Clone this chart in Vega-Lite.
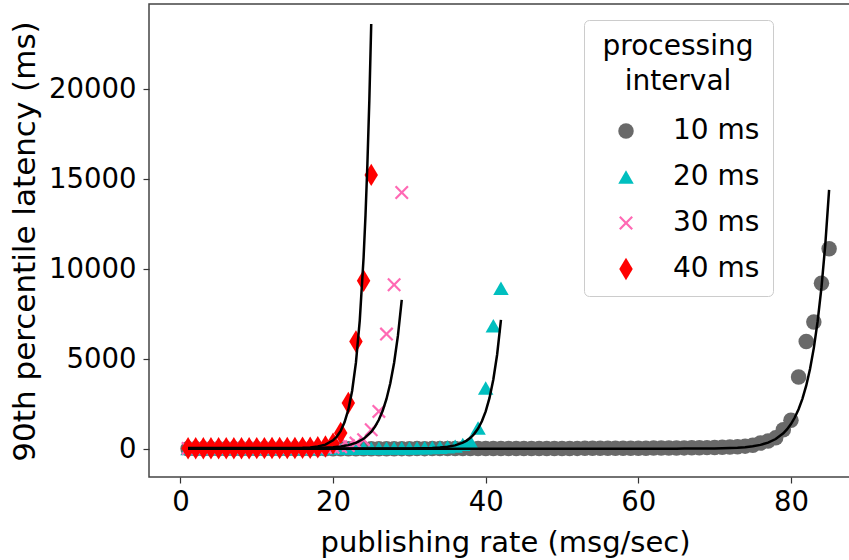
{
  "$schema": "https://vega.github.io/schema/vega-lite/v6.json",
  "width": 703,
  "height": 473,
  "autosize": {"type": "none"},
  "padding": {"left": 149, "top": 4, "right": 0, "bottom": 83},
  "background": "white",
  "config": {
    "font": "DejaVu Sans",
    "view": {"stroke": "#444", "strokeWidth": 1.5},
    "axis": {"grid": false, "domain": false, "labelFont": "DejaVu Sans", "labelFontSize": 27.5, "labelColor": "#000", "tickColor": "#333", "tickSize": 6, "tickWidth": 1.2, "titleFont": "DejaVu Sans", "titleFontWeight": "normal", "titleColor": "#000"}
  },
  "datasets": {
    "pts": [
      {"x":1,"y":14,"s":"10 ms"},{"x":2,"y":13,"s":"10 ms"},{"x":3,"y":15,"s":"10 ms"},{"x":4,"y":14,"s":"10 ms"},{"x":5,"y":16,"s":"10 ms"},{"x":6,"y":15,"s":"10 ms"},{"x":7,"y":14,"s":"10 ms"},{"x":8,"y":16,"s":"10 ms"},{"x":9,"y":15,"s":"10 ms"},{"x":10,"y":17,"s":"10 ms"},
      {"x":11,"y":16,"s":"10 ms"},{"x":12,"y":15,"s":"10 ms"},{"x":13,"y":17,"s":"10 ms"},{"x":14,"y":16,"s":"10 ms"},{"x":15,"y":18,"s":"10 ms"},{"x":16,"y":17,"s":"10 ms"},{"x":17,"y":16,"s":"10 ms"},{"x":18,"y":18,"s":"10 ms"},{"x":19,"y":17,"s":"10 ms"},{"x":20,"y":19,"s":"10 ms"},
      {"x":21,"y":18,"s":"10 ms"},{"x":22,"y":17,"s":"10 ms"},{"x":23,"y":19,"s":"10 ms"},{"x":24,"y":18,"s":"10 ms"},{"x":25,"y":20,"s":"10 ms"},{"x":26,"y":19,"s":"10 ms"},{"x":27,"y":18,"s":"10 ms"},{"x":28,"y":20,"s":"10 ms"},{"x":29,"y":21,"s":"10 ms"},{"x":30,"y":20,"s":"10 ms"},
      {"x":31,"y":22,"s":"10 ms"},{"x":32,"y":21,"s":"10 ms"},{"x":33,"y":23,"s":"10 ms"},{"x":34,"y":22,"s":"10 ms"},{"x":35,"y":24,"s":"10 ms"},{"x":36,"y":23,"s":"10 ms"},{"x":37,"y":25,"s":"10 ms"},{"x":38,"y":24,"s":"10 ms"},{"x":39,"y":26,"s":"10 ms"},{"x":40,"y":25,"s":"10 ms"},
      {"x":41,"y":27,"s":"10 ms"},{"x":42,"y":28,"s":"10 ms"},{"x":43,"y":27,"s":"10 ms"},{"x":44,"y":29,"s":"10 ms"},{"x":45,"y":30,"s":"10 ms"},{"x":46,"y":29,"s":"10 ms"},{"x":47,"y":31,"s":"10 ms"},{"x":48,"y":32,"s":"10 ms"},{"x":49,"y":33,"s":"10 ms"},{"x":50,"y":32,"s":"10 ms"},
      {"x":51,"y":34,"s":"10 ms"},{"x":52,"y":35,"s":"10 ms"},{"x":53,"y":36,"s":"10 ms"},{"x":54,"y":37,"s":"10 ms"},{"x":55,"y":38,"s":"10 ms"},{"x":56,"y":40,"s":"10 ms"},{"x":57,"y":41,"s":"10 ms"},{"x":58,"y":43,"s":"10 ms"},{"x":59,"y":44,"s":"10 ms"},{"x":60,"y":46,"s":"10 ms"},
      {"x":61,"y":48,"s":"10 ms"},{"x":62,"y":50,"s":"10 ms"},{"x":63,"y":53,"s":"10 ms"},{"x":64,"y":55,"s":"10 ms"},{"x":65,"y":58,"s":"10 ms"},{"x":66,"y":62,"s":"10 ms"},{"x":67,"y":66,"s":"10 ms"},{"x":68,"y":71,"s":"10 ms"},{"x":69,"y":77,"s":"10 ms"},{"x":70,"y":85,"s":"10 ms"},
      {"x":71,"y":95,"s":"10 ms"},{"x":72,"y":110,"s":"10 ms"},{"x":73,"y":130,"s":"10 ms"},{"x":74,"y":160,"s":"10 ms"},{"x":75,"y":210,"s":"10 ms"},{"x":76,"y":330,"s":"10 ms"},{"x":77,"y":450,"s":"10 ms"},{"x":78,"y":620,"s":"10 ms"},{"x":79,"y":1070,"s":"10 ms"},{"x":80,"y":1600,"s":"10 ms"},
      {"x":81,"y":4000,"s":"10 ms"},{"x":82,"y":5980,"s":"10 ms"},{"x":83,"y":7060,"s":"10 ms"},{"x":84,"y":9220,"s":"10 ms"},{"x":85,"y":11130,"s":"10 ms"},
      {"x":1,"y":22,"s":"20 ms"},{"x":2,"y":23,"s":"20 ms"},{"x":3,"y":22,"s":"20 ms"},{"x":4,"y":24,"s":"20 ms"},{"x":5,"y":23,"s":"20 ms"},{"x":6,"y":25,"s":"20 ms"},{"x":7,"y":24,"s":"20 ms"},{"x":8,"y":26,"s":"20 ms"},{"x":9,"y":25,"s":"20 ms"},{"x":10,"y":27,"s":"20 ms"},
      {"x":11,"y":26,"s":"20 ms"},{"x":12,"y":28,"s":"20 ms"},{"x":13,"y":27,"s":"20 ms"},{"x":14,"y":29,"s":"20 ms"},{"x":15,"y":30,"s":"20 ms"},{"x":16,"y":29,"s":"20 ms"},{"x":17,"y":31,"s":"20 ms"},{"x":18,"y":32,"s":"20 ms"},{"x":19,"y":33,"s":"20 ms"},{"x":20,"y":34,"s":"20 ms"},
      {"x":21,"y":35,"s":"20 ms"},{"x":22,"y":37,"s":"20 ms"},{"x":23,"y":38,"s":"20 ms"},{"x":24,"y":40,"s":"20 ms"},{"x":25,"y":42,"s":"20 ms"},{"x":26,"y":44,"s":"20 ms"},{"x":27,"y":47,"s":"20 ms"},{"x":28,"y":50,"s":"20 ms"},{"x":29,"y":54,"s":"20 ms"},{"x":30,"y":58,"s":"20 ms"},
      {"x":31,"y":63,"s":"20 ms"},{"x":32,"y":70,"s":"20 ms"},{"x":33,"y":80,"s":"20 ms"},{"x":34,"y":95,"s":"20 ms"},{"x":35,"y":120,"s":"20 ms"},{"x":36,"y":160,"s":"20 ms"},{"x":37,"y":260,"s":"20 ms"},{"x":38,"y":420,"s":"20 ms"},{"x":39,"y":1170,"s":"20 ms"},{"x":40,"y":3390,"s":"20 ms"},
      {"x":41,"y":6850,"s":"20 ms"},{"x":42,"y":8940,"s":"20 ms"},
      {"x":1,"y":32,"s":"30 ms"},{"x":2,"y":33,"s":"30 ms"},{"x":3,"y":32,"s":"30 ms"},{"x":4,"y":34,"s":"30 ms"},{"x":5,"y":35,"s":"30 ms"},{"x":6,"y":34,"s":"30 ms"},{"x":7,"y":36,"s":"30 ms"},{"x":8,"y":37,"s":"30 ms"},{"x":9,"y":38,"s":"30 ms"},{"x":10,"y":40,"s":"30 ms"},
      {"x":11,"y":41,"s":"30 ms"},{"x":12,"y":43,"s":"30 ms"},{"x":13,"y":45,"s":"30 ms"},{"x":14,"y":48,"s":"30 ms"},{"x":15,"y":51,"s":"30 ms"},{"x":16,"y":55,"s":"30 ms"},{"x":17,"y":60,"s":"30 ms"},{"x":18,"y":68,"s":"30 ms"},{"x":19,"y":80,"s":"30 ms"},{"x":20,"y":100,"s":"30 ms"},
      {"x":21,"y":130,"s":"30 ms"},{"x":22,"y":190,"s":"30 ms"},{"x":23,"y":330,"s":"30 ms"},{"x":24,"y":520,"s":"30 ms"},{"x":25,"y":1070,"s":"30 ms"},{"x":26,"y":2090,"s":"30 ms"},{"x":27,"y":6390,"s":"30 ms"},{"x":28,"y":9130,"s":"30 ms"},{"x":29,"y":14260,"s":"30 ms"},
      {"x":1,"y":42,"s":"40 ms"},{"x":2,"y":44,"s":"40 ms"},{"x":3,"y":43,"s":"40 ms"},{"x":4,"y":45,"s":"40 ms"},{"x":5,"y":44,"s":"40 ms"},{"x":6,"y":46,"s":"40 ms"},{"x":7,"y":47,"s":"40 ms"},{"x":8,"y":46,"s":"40 ms"},{"x":9,"y":48,"s":"40 ms"},{"x":10,"y":49,"s":"40 ms"},
      {"x":11,"y":50,"s":"40 ms"},{"x":12,"y":52,"s":"40 ms"},{"x":13,"y":54,"s":"40 ms"},{"x":14,"y":56,"s":"40 ms"},{"x":15,"y":60,"s":"40 ms"},{"x":16,"y":66,"s":"40 ms"},{"x":17,"y":75,"s":"40 ms"},{"x":18,"y":95,"s":"40 ms"},{"x":19,"y":140,"s":"40 ms"},{"x":20,"y":300,"s":"40 ms"},
      {"x":21,"y":890,"s":"40 ms"},{"x":22,"y":2560,"s":"40 ms"},{"x":23,"y":5980,"s":"40 ms"},{"x":24,"y":9350,"s":"40 ms"},{"x":25,"y":15240,"s":"40 ms"}
    ],
    "fit": [
      {"x":1,"y":20,"s":"10 ms"},{"x":20,"y":20,"s":"10 ms"},{"x":40,"y":20,"s":"10 ms"},{"x":60,"y":20,"s":"10 ms"},{"x":65,"y":21,"s":"10 ms"},{"x":66,"y":22,"s":"10 ms"},{"x":68,"y":25,"s":"10 ms"},{"x":70,"y":32,"s":"10 ms"},{"x":71,"y":40,"s":"10 ms"},{"x":72,"y":52,"s":"10 ms"},{"x":73,"y":71,"s":"10 ms"},{"x":74,"y":102,"s":"10 ms"},{"x":75,"y":151,"s":"10 ms"},{"x":76,"y":229,"s":"10 ms"},{"x":77,"y":354,"s":"10 ms"},{"x":78,"y":554,"s":"10 ms"},{"x":79,"y":875,"s":"10 ms"},{"x":79.5,"y":1102,"s":"10 ms"},{"x":80,"y":1388,"s":"10 ms"},{"x":80.5,"y":1750,"s":"10 ms"},{"x":81,"y":2209,"s":"10 ms"},{"x":81.5,"y":2789,"s":"10 ms"},{"x":82,"y":3522,"s":"10 ms"},{"x":82.5,"y":4450,"s":"10 ms"},{"x":83,"y":5624,"s":"10 ms"},{"x":83.5,"y":7108,"s":"10 ms"},{"x":84,"y":8986,"s":"10 ms"},{"x":84.5,"y":11362,"s":"10 ms"},{"x":85,"y":14406,"s":"10 ms"},
      {"x":1,"y":30,"s":"20 ms"},{"x":20,"y":30,"s":"20 ms"},{"x":28,"y":31,"s":"20 ms"},{"x":30,"y":34,"s":"20 ms"},{"x":32,"y":44,"s":"20 ms"},{"x":33,"y":57,"s":"20 ms"},{"x":34,"y":80,"s":"20 ms"},{"x":35,"y":123,"s":"20 ms"},{"x":36,"y":203,"s":"20 ms"},{"x":37,"y":351,"s":"20 ms"},{"x":37.5,"y":467,"s":"20 ms"},{"x":38,"y":626,"s":"20 ms"},{"x":38.5,"y":843,"s":"20 ms"},{"x":39,"y":1139,"s":"20 ms"},{"x":39.5,"y":1542,"s":"20 ms"},{"x":40,"y":2091,"s":"20 ms"},{"x":40.5,"y":2841,"s":"20 ms"},{"x":41,"y":3862,"s":"20 ms"},{"x":41.5,"y":5254,"s":"20 ms"},{"x":42,"y":7183,"s":"20 ms"},
      {"x":1,"y":40,"s":"30 ms"},{"x":10,"y":40,"s":"30 ms"},{"x":15,"y":44,"s":"30 ms"},{"x":18,"y":59,"s":"30 ms"},{"x":20,"y":98,"s":"30 ms"},{"x":21,"y":141,"s":"30 ms"},{"x":22,"y":215,"s":"30 ms"},{"x":23,"y":344,"s":"30 ms"},{"x":24,"y":567,"s":"30 ms"},{"x":25,"y":953,"s":"30 ms"},{"x":25.5,"y":1243,"s":"30 ms"},{"x":26,"y":1623,"s":"30 ms"},{"x":26.5,"y":2124,"s":"30 ms"},{"x":27,"y":2784,"s":"30 ms"},{"x":27.5,"y":3652,"s":"30 ms"},{"x":28,"y":4796,"s":"30 ms"},{"x":28.5,"y":6302,"s":"30 ms"},{"x":29,"y":8294,"s":"30 ms"},
      {"x":1,"y":50,"s":"40 ms"},{"x":10,"y":50,"s":"40 ms"},{"x":14,"y":54,"s":"40 ms"},{"x":16,"y":68,"s":"40 ms"},{"x":17,"y":89,"s":"40 ms"},{"x":18,"y":137,"s":"40 ms"},{"x":19,"y":244,"s":"40 ms"},{"x":20,"y":482,"s":"40 ms"},{"x":20.5,"y":694,"s":"40 ms"},{"x":21,"y":1011,"s":"40 ms"},{"x":21.5,"y":1484,"s":"40 ms"},{"x":22,"y":2189,"s":"40 ms"},{"x":22.5,"y":3241,"s":"40 ms"},{"x":23,"y":4811,"s":"40 ms"},{"x":23.5,"y":7152,"s":"40 ms"},{"x":24,"y":10645,"s":"40 ms"},{"x":24.25,"y":12991,"s":"40 ms"},{"x":24.5,"y":15856,"s":"40 ms"},{"x":24.75,"y":19355,"s":"40 ms"},{"x":25,"y":23630,"s":"40 ms"}
    ]
  },
  "layer": [
    {
      "data": {"name": "pts"},
      "mark": {"type": "point", "filled": true, "size": 240, "opacity": 1, "strokeWidth": 0, "clip": true},
      "encoding": {
        "x": {"field": "x", "type": "quantitative", "scale": {"domain": [-4.12, 88], "nice": false, "zero": false},
              "axis": {"values": [0, 20, 40, 60, 80], "title": "publishing rate (msg/sec)", "labelPadding": 5, "titleFontSize": 29, "titleX": 356, "titleY": 74, "titleBaseline": "alphabetic", "titleAlign": "center"}},
        "y": {"field": "y", "type": "quantitative", "scale": {"domain": [-1556, 24740], "nice": false, "zero": false},
              "axis": {"values": [0, 5000, 10000, 15000, 20000], "format": "d", "title": "90th percentile latency (ms)", "labelPadding": 7, "titleFontSize": 31, "titleX": -115, "titleY": 237, "titleAngle": 270, "titleBaseline": "alphabetic", "titleAlign": "center"}},
        "color": {"field": "s", "type": "nominal",
                  "scale": {"domain": ["10 ms", "20 ms", "30 ms", "40 ms"], "range": ["#696969", "#00bfbf", "#ff69b4", "#ff0000"]},
                  "legend": {"title": ["processing", "interval"], "orient": "none", "legendX": 435, "legendY": 16,
                             "titleFontSize": 28, "titleFontWeight": "normal", "titleLineHeight": 35, "titleAnchor": "middle", "titleAlign": "center", "titleColor": "#000",
                             "labelFontSize": 28, "labelColor": "#000", "symbolSize": 240, "symbolOffset": 15, "labelOffset": 33, "rowPadding": 18, "titlePadding": 21,
                             "padding": 13, "strokeColor": "#cccccc", "fillColor": "white", "cornerRadius": 5, "symbolStrokeWidth": 0}},
        "shape": {"field": "s", "type": "nominal",
                  "scale": {"domain": ["10 ms", "20 ms", "30 ms", "40 ms"], "range": ["circle", "triangle-up", "M0,-0.2L0.7,-0.9L0.9,-0.7L0.2,0L0.9,0.7L0.7,0.9L0,0.2L-0.7,0.9L-0.9,0.7L-0.2,0L-0.9,-0.7L-0.7,-0.9Z", "M0,-1.45L0.87,0L0,1.45L-0.87,0Z"]}}
      }
    },
    {
      "data": {"name": "fit"},
      "mark": {"type": "line", "color": "black", "strokeWidth": 2.5, "clip": true},
      "encoding": {
        "x": {"field": "x", "type": "quantitative"},
        "y": {"field": "y", "type": "quantitative"},
        "detail": {"field": "s", "type": "nominal"}
      }
    }
  ]
}
